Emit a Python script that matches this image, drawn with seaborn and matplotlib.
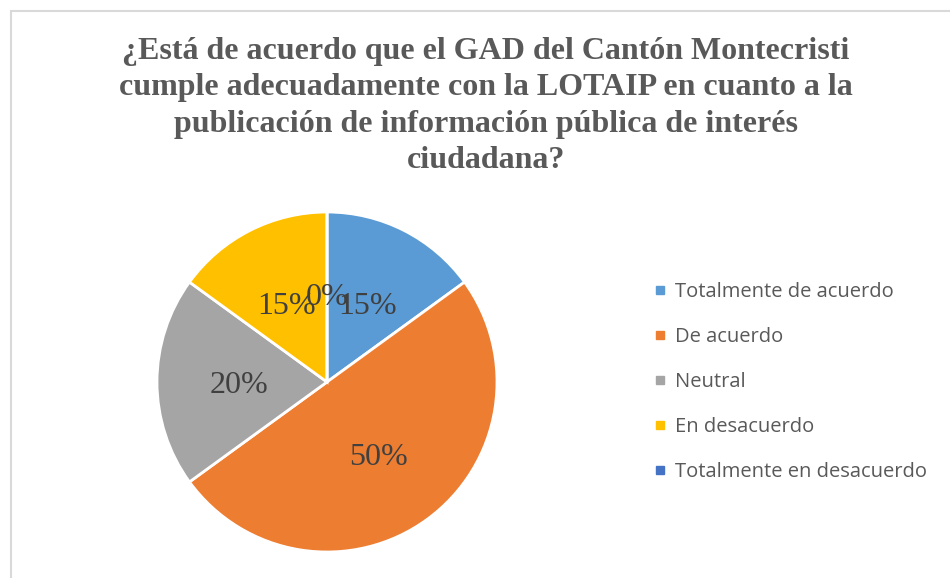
import matplotlib
matplotlib.use("Agg")
import matplotlib.pyplot as plt
from matplotlib.lines import Line2D
from matplotlib.patches import Rectangle
import seaborn as sns

# survey answers and share of respondents (%)
categories = ['Totalmente de acuerdo', 'De acuerdo', 'Neutral',
              'En desacuerdo', 'Totalmente en desacuerdo']
values = [15, 50, 20, 15, 0]
colors = sns.color_palette(['#5B9BD5', '#ED7D31', '#A5A5A5', '#FFC000', '#4472C4'])
title = ('¿Está de acuerdo que el GAD del Cantón Montecristi\n'
         'cumple adecuadamente con la LOTAIP en cuanto a la\n'
         'publicación de información pública de interés\n'
         'ciudadana?')

sns.set_theme(style='white')

fig = plt.figure(figsize=(9.5, 5.78), dpi=100)
W, H = 950, 578

# light chart frame (runs off the right and bottom edges)
fig.patches.append(Rectangle((10.5 / W, -0.1), 1.2, 1.1 - 11 / H,
                             transform=fig.transFigure, fill=False,
                             edgecolor='#D9D9D9', linewidth=1.5))

fig.text(486 / W, 1 - 37 / H, title, ha='center', va='top',
         family='Liberation Serif', weight='bold', fontsize=23,
         color='#595959', linespacing=1.34)

ax = fig.add_axes([157 / W, 26 / H, 340 / W, 340 / H])
wedges, texts = ax.pie(values, colors=colors, startangle=90, counterclock=False,
                       labels=[f'{v}%' for v in values], labeldistance=0.52,
                       wedgeprops=dict(edgecolor='white', linewidth=2),
                       textprops=dict(family='Liberation Serif', fontsize=23,
                                      color='#404040'))
for t in texts:
    t.set_ha('center')
    t.set_va('center_baseline')
ax.set_xlim(-1, 1)
ax.set_ylim(-1, 1)
ax.set_aspect('equal')
ax.axis('off')

handles = [Line2D([], [], marker='s', linestyle='none', markersize=5.5,
                  markerfacecolor=c, markeredgecolor=c) for c in colors]
leg = fig.legend(handles, categories, loc='center left',
                 bbox_to_anchor=(636 / W, 1 - 382 / H), frameon=False,
                 prop=dict(family='Open Sans', size=14.5),
                 labelspacing=1.25, handlelength=0.6, handletextpad=0.45)
for t in leg.get_texts():
    t.set_color('#595959')

fig.savefig('out.png', dpi=100)
